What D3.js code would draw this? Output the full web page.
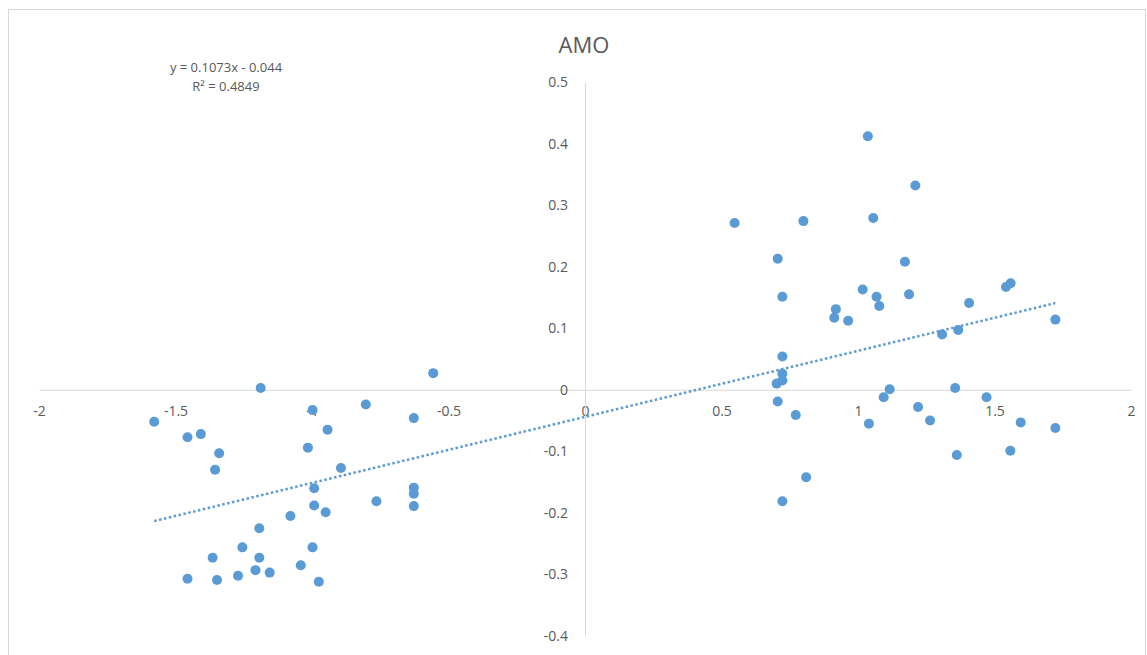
<!DOCTYPE html>
<html>
<head>
<meta charset="utf-8">
<script src="https://cdn.jsdelivr.net/npm/d3@7"></script>
<style>
  body { margin: 0; background: #fff; }
  svg text { font-family: "Open Sans", "Liberation Sans", sans-serif; fill: #595959; }
</style>
</head>
<body>
<svg id="vis" width="1147" height="655"></svg>
<script>
// values
const xValues = [
  -1.578, -1.456, -1.407, -1.340, -1.355, -1.188, -0.998, -0.943, -1.015, -0.894,
  -0.992, -0.992, -0.950, -1.079, -1.193, -1.255, -0.998, -1.364, -1.193, -1.041,
  -1.207, -1.155, -1.271, -1.456, -1.348, -0.975, -0.803, -0.764, -0.627, -0.627,
  -0.627, -0.627, -0.556,
  0.548, 0.706, 0.723, 0.800, 1.036, 1.210, 1.056, 1.172, 1.017, 1.068,
  1.078, 1.187, 1.407, 1.542, 1.559, 0.919, 0.913, 0.964, 1.308, 1.367,
  1.723, 0.723, 0.723, 0.723, 0.702, 0.706, 0.772, 1.116, 1.094, 1.040,
  1.220, 1.264, 1.356, 1.471, 1.596, 1.723, 1.362, 1.558, 0.810, 0.723
];
const yValues = [
  -0.052, -0.077, -0.072, -0.103, -0.130, 0.003, -0.033, -0.065, -0.094, -0.127,
  -0.160, -0.188, -0.199, -0.205, -0.225, -0.256, -0.256, -0.273, -0.273, -0.285,
  -0.293, -0.297, -0.302, -0.307, -0.309, -0.312, -0.024, -0.181, -0.046, -0.159,
  -0.169, -0.189, 0.027,
  0.271, 0.213, 0.151, 0.274, 0.412, 0.332, 0.279, 0.208, 0.163, 0.151,
  0.136, 0.155, 0.141, 0.167, 0.173, 0.131, 0.117, 0.112, 0.090, 0.097,
  0.114, 0.054, 0.026, 0.015, 0.010, -0.019, -0.041, 0.001, -0.012, -0.055,
  -0.028, -0.050, 0.003, -0.012, -0.053, -0.062, -0.106, -0.099, -0.142, -0.181
];
const xTicks = [-2, -1.5, -1, -0.5, 0, 0.5, 1, 1.5, 2];
const yTicks = [-0.4, -0.3, -0.2, -0.1, 0, 0.1, 0.2, 0.3, 0.4, 0.5];
const trend = { slope: 0.1073, intercept: -0.044 };
const trendLabels = ['y = 0.1073x - 0.044', 'R² = 0.4849'];
const title = 'AMO';

const points = xValues.map((x, i) => ({ x: x, y: yValues[i] }));
const color = '#5b9bd5';

const vis = d3.select('#vis');

// chart frame
vis.append('rect')
  .attr('x', 8.5).attr('y', 9.5)
  .attr('width', 1137).attr('height', 660)
  .attr('fill', 'none')
  .attr('stroke', '#d9d9d9');

const x = d3.scaleLinear().domain([-2, 2]).range([39, 1131]);
const y = d3.scaleLinear().domain([-0.4, 0.5]).range([636, 82]);

// axes cross at the origin, plain hyphen minus like Excel
const xAxis = vis.append('g')
  .attr('transform', `translate(0,${y(0)})`)
  .call(d3.axisBottom(x).tickValues(xTicks).tickSize(0).tickPadding(16)
    .tickFormat(d => String(d)));
xAxis.select('.domain').attr('stroke', '#d9d9d9');
xAxis.selectAll('text').attr('font-size', 14).attr('fill', '#595959');

const yAxis = vis.append('g')
  .attr('transform', `translate(${x(0)},0)`)
  .call(d3.axisLeft(y).tickValues(yTicks).tickSize(0).tickPadding(17)
    .tickFormat(d => String(d)));
yAxis.select('.domain').attr('stroke', '#d9d9d9');
yAxis.selectAll('text').attr('font-size', 14).attr('fill', '#595959');
xAxis.selectAll('.tick line').remove();
yAxis.selectAll('.tick line').remove();

// trendline
const xExtent = d3.extent(xValues);
vis.append('line')
  .attr('x1', x(xExtent[0])).attr('y1', y(trend.slope * xExtent[0] + trend.intercept))
  .attr('x2', x(xExtent[1])).attr('y2', y(trend.slope * xExtent[1] + trend.intercept))
  .attr('stroke', color)
  .attr('stroke-width', 2.5)
  .attr('stroke-dasharray', '2.5 2.5');

// points
vis.selectAll('circle.pt')
  .data(points)
  .enter()
  .append('circle')
    .classed('pt', true)
    .attr('cx', d => x(d.x))
    .attr('cy', d => y(d.y))
    .attr('r', 5)
    .attr('fill', color);

// title
vis.append('text')
  .attr('x', 584).attr('y', 53)
  .attr('text-anchor', 'middle')
  .attr('font-size', 22)
  .text(title);

// trendline equation
vis.selectAll('text.eq')
  .data(trendLabels)
  .enter()
  .append('text')
    .classed('eq', true)
    .attr('x', 226)
    .attr('y', (d, i) => 72 + i * 19)
    .attr('text-anchor', 'middle')
    .attr('font-size', 13)
    .text(d => d);
</script>
</body>
</html>
